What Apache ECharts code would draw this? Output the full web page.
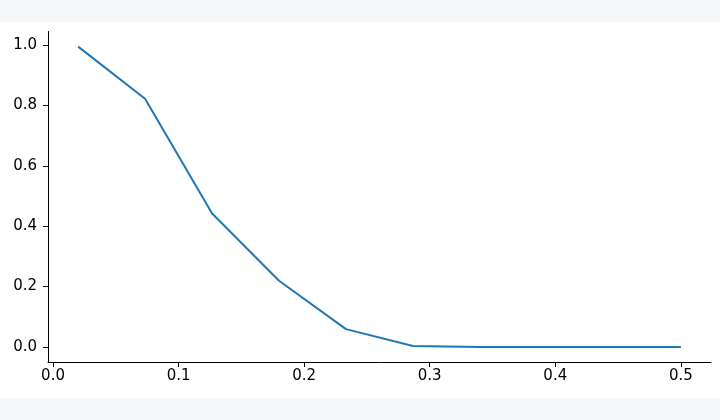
<!DOCTYPE html>
<html><head><meta charset="utf-8">
<script src="https://cdn.jsdelivr.net/npm/echarts@6/dist/echarts.min.js"></script>
<style>html,body{margin:0;padding:0;background:#f5f8fb;}#c{width:720px;height:420px;}</style>
</head><body><div id="c"></div>
<script>
const xValues = [0.02, 0.0733, 0.1267, 0.18, 0.2333, 0.2867, 0.34, 0.3933, 0.4467, 0.5];
const yValues = [0.995, 0.822, 0.442, 0.219, 0.059, 0.003, 0.0, 0.0, 0.0, 0.0];
const xTicks = [0, 0.1, 0.2, 0.3, 0.4, 0.5];
const yTicks = [0, 0.2, 0.4, 0.6, 0.8, 1.0];

const chart = echarts.init(document.getElementById('c'), null, {renderer: 'canvas'});
const font = 'DejaVu Sans';
chart.setOption({
  animation: false,
  backgroundColor: '#f5f8fb',
  graphic: [{type: 'rect', shape: {x: 0, y: 22, width: 720, height: 376}, style: {fill: '#ffffff'}, z: -10, silent: true}],
  grid: {left: 48, right: 9, top: 31.5, bottom: 58, containLabel: false},
  xAxis: {
    type: 'value', min: -0.004, max: 0.524,
    splitLine: {show: false},
    axisLine: {show: true, onZero: false, lineStyle: {color: '#000', width: 1}},
    axisTick: {show: true, inside: false, length: 5, lineStyle: {color: '#000', width: 1}, customValues: xTicks},
    axisLabel: {customValues: xTicks, color: '#000', fontFamily: font, fontSize: 15, margin: 7,
      formatter: v => v.toFixed(1)}
  },
  yAxis: {
    type: 'value', min: -0.05, max: 1.045,
    splitLine: {show: false},
    axisLine: {show: true, onZero: false, lineStyle: {color: '#000', width: 1}},
    axisTick: {show: true, inside: false, length: 5, lineStyle: {color: '#000', width: 1}, customValues: yTicks},
    axisLabel: {customValues: yTicks, color: '#000', fontFamily: font, fontSize: 15, margin: 11,
      formatter: v => v.toFixed(1)}
  },
  series: [{
    type: 'line', data: xValues.map((x, i) => [x, yValues[i]]),
    showSymbol: false, symbol: 'none',
    lineStyle: {color: '#1f77b4', width: 2}
  }]
});
</script></body></html>
